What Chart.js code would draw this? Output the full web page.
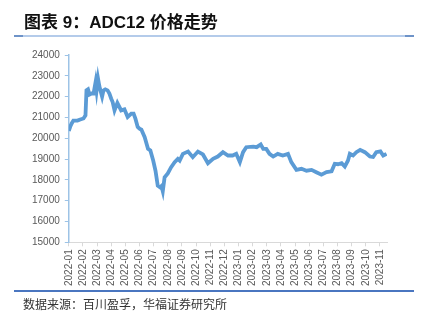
<!DOCTYPE html>
<html>
<head>
<meta charset="utf-8">
<script src="https://cdn.jsdelivr.net/npm/chart.js@4"></script>
<style>
  body { margin: 0; background: #fff; width: 421px; height: 318px; overflow: hidden; position: relative; }
  #title { position: absolute; left: 24px; top: 8px; font: bold 17px "Liberation Sans", "Noto Sans CJK SC", sans-serif; color: #111; white-space: nowrap; }
  #topline { position: absolute; left: 14px; top: 35px; width: 400px; height: 2px; background: #b4cbea; }
  #topline:before, #topline:after { content: ""; position: absolute; top: 0; width: 9px; height: 2px; background: #6e93c8; }
  #topline:before { left: 0; }
  #topline:after { right: 0; }
  #botline { position: absolute; left: 14px; top: 290px; width: 400px; height: 2px; background: #4a76c0; }
  #source { position: absolute; left: 23px; top: 295px; font: 12px "Noto Sans CJK SC", sans-serif; color: #333; white-space: nowrap; }
  #wrap { position: absolute; left: 0; top: 0; width: 421px; height: 318px; }
</style>
</head>
<body>
<div id="wrap"><canvas id="priceChart"></canvas></div>
<div id="title">图表 9：ADC12 价格走势</div>
<div id="topline"></div>
<div id="botline"></div>
<div id="source">数据来源：百川盈孚，华福证券研究所</div>
<script>
// month tick labels
const monthLabels = ["2022-01", "2022-02", "2022-03", "2022-04", "2022-05", "2022-06", "2022-07", "2022-08",
    "2022-09", "2022-10", "2022-11", "2022-12", "2023-01", "2023-02", "2023-03", "2023-04", "2023-05",
    "2023-06", "2023-07", "2023-08", "2023-09", "2023-10", "2023-11"];

// ADC12 price (yuan/ton)
const dates = ["2022-01-01", "2022-01-04", "2022-01-07", "2022-01-11", "2022-01-20", "2022-01-26", "2022-02-02",
    "2022-02-06", "2022-02-08", "2022-02-11", "2022-02-14", "2022-02-18", "2022-02-22", "2022-02-26", "2022-02-28",
    "2022-03-03", "2022-03-06", "2022-03-12", "2022-03-15", "2022-03-19", "2022-03-24", "2022-03-28", "2022-04-01",
    "2022-04-04", "2022-04-08", "2022-04-14", "2022-04-22", "2022-04-29", "2022-05-06", "2022-05-14", "2022-05-19",
    "2022-05-23", "2022-05-28", "2022-06-01", "2022-06-05", "2022-06-12", "2022-06-19", "2022-06-24", "2022-06-30",
    "2022-07-05", "2022-07-10", "2022-07-15", "2022-07-18", "2022-07-21", "2022-07-25", "2022-08-01", "2022-08-08",
    "2022-08-16", "2022-08-23", "2022-08-27", "2022-09-03", "2022-09-14", "2022-09-24", "2022-10-05", "2022-10-16",
    "2022-10-27", "2022-11-07", "2022-11-17", "2022-11-28", "2022-12-09", "2022-12-19", "2022-12-27", "2023-01-04",
    "2023-01-11", "2023-01-18", "2023-02-02", "2023-02-09", "2023-02-17", "2023-02-22", "2023-02-28", "2023-03-07",
    "2023-03-15", "2023-03-25", "2023-04-05", "2023-04-16", "2023-04-23", "2023-05-04", "2023-05-15", "2023-05-26",
    "2023-06-06", "2023-06-16", "2023-06-27", "2023-07-08", "2023-07-19", "2023-07-26", "2023-08-02", "2023-08-10",
    "2023-08-17", "2023-08-24", "2023-08-28", "2023-09-04", "2023-09-11", "2023-09-19", "2023-09-29", "2023-10-10",
    "2023-10-17", "2023-10-24", "2023-11-02", "2023-11-08", "2023-11-15"];
const prices = [20350, 20550, 20700, 20850, 20850, 20900, 20950,
    21100, 22300, 22350, 22100, 22150, 22150, 22700, 22300,
    22870, 22500, 22000, 22300, 22350, 22300, 22150, 21900,
    21740, 21340, 21700, 21340, 21390, 21020, 21180, 21180,
    20940, 20540, 20460, 20410, 20050, 19490, 19410, 18930,
    18440, 17720, 17640, 17700, 17450, 18120, 18310, 18600,
    18850, 19010, 18930, 19250, 19360, 19090, 19360, 19220,
    18800, 19010, 19120, 19330, 19170, 19170, 19250, 18850,
    19330, 19570, 19600, 19570, 19700, 19490, 19490, 19250,
    19120, 19250, 19170, 19250, 18850, 18480, 18530, 18440,
    18480, 18370, 18250, 18370, 18410, 18770, 18750, 18800,
    18640, 18930, 19250, 19170, 19330, 19440, 19330, 19120,
    19100, 19330, 19370, 19170, 19250];

function monthPos(d) {
    const [y, m, day] = d.split("-").map(Number);
    const dim = new Date(y, m, 0).getDate();
    return (y - 2022) * 12 + (m - 1) + (day - 1) / dim;
}

const points = dates.map((d, i) => ({ x: monthPos(d), y: prices[i] }));

Chart.defaults.font.family = "'Liberation Sans', Arial, sans-serif";
Chart.defaults.font.size = 10;
Chart.defaults.color = "#595959";

new Chart(document.getElementById("priceChart").getContext("2d"), {
    type: "line",
    data: {
        datasets: [{
            label: "ADC12",
            data: points,
            borderColor: "#5b9bd5",
            borderWidth: 3.8,
            pointRadius: 0,
            tension: 0,
            fill: false
        }]
    },
    options: {
        responsive: true,
        maintainAspectRatio: false,
        animation: false,
        layout: { padding: { left: 27, right: 34, top: 55, bottom: 29 } },
        plugins: { legend: { display: false }, tooltip: { enabled: false } },
        scales: {
            x: {
                type: "linear",
                min: 0,
                max: 22.5,
                afterBuildTicks: axis => {
                    axis.ticks = monthLabels.map((l, i) => ({ value: i }));
                },
                ticks: {
                    autoSkip: false,
                    maxRotation: 90,
                    minRotation: 90,
                    padding: 3,
                    callback: v => monthLabels[v]
                },
                grid: { drawOnChartArea: false, drawTicks: true, tickLength: 4, color: "#d9d9d9" },
                border: { color: "#d9d9d9", width: 1 }
            },
            y: {
                min: 15000,
                max: 24000,
                ticks: { stepSize: 1000, padding: 5, callback: v => String(v) },
                grid: { drawOnChartArea: false, drawTicks: true, tickLength: 4, color: "#9dc3e6" },
                border: { color: "#9dc3e6", width: 1.5 }
            }
        }
    }
});
</script>
</body>
</html>
